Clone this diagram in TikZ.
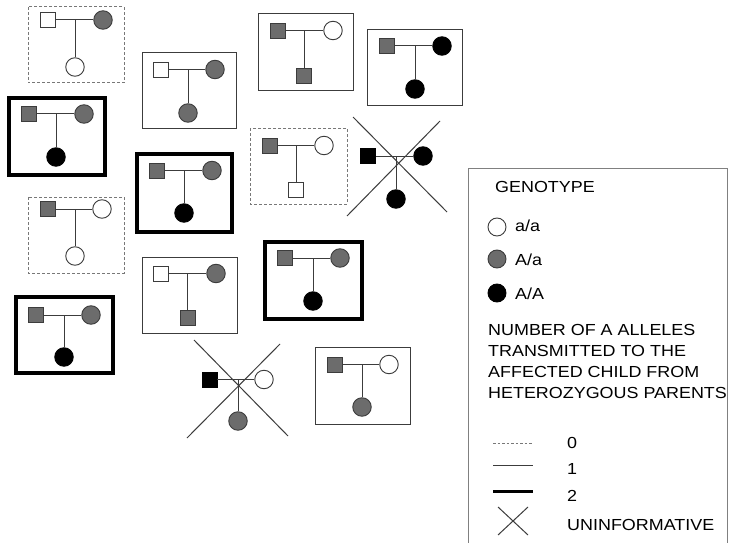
\documentclass[tikz,border=0pt]{standalone}
\usepackage{fontspec}
\setmainfont{Liberation Sans}
\definecolor{gfill}{RGB}{108,108,108}
\definecolor{gline}{RGB}{60,60,60}
\definecolor{dline}{RGB}{120,120,120}
\newcommand{\ped}[9]{%
  \node[#2] (#1f) at (#3,#4) {};
  \node[#5] (#1m) at (#6,#4) {};
  \node[#7] (#1c) at (#8,#9) {};
  \coordinate (#1j) at (#8,#4);
  \draw[pline] (#1f) -- (#1m);
  \draw[pline] (#1j) -- (#1c);
}
\newcommand{\ltxt}[1]{\scalebox{1.12}[1]{#1}}
\begin{document}
\begin{tikzpicture}[x=1pt,y=-1pt,
  sym/.style={draw=gline,line width=0.9pt,inner sep=0pt},
  sqW/.style={sym,rectangle,minimum size=15pt,fill=white},
  sqG/.style={sym,rectangle,minimum size=15pt,fill=gfill},
  sqB/.style={sym,rectangle,minimum size=15pt,fill=black,draw=black},
  ciW/.style={sym,circle,minimum size=18.5pt,fill=white},
  ciG/.style={sym,circle,minimum size=18.5pt,fill=gfill},
  ciB/.style={sym,circle,minimum size=18.5pt,fill=black,draw=black},
  pline/.style={draw=gline,line width=1pt},
  bzero/.style={draw=dline,line width=1pt,dash pattern=on 3pt off 2pt},
  bone/.style={draw=gline,line width=1pt},
  btwo/.style={draw=black,line width=3.3pt},
  xline/.style={draw=gline,line width=1pt},
  ltext/.style={font=\fontsize{16}{21}\selectfont,inner sep=0pt,anchor=base west,text=black},
  lbox/.style={draw=gray,line width=1pt}
]
\useasboundingbox (0,0) rectangle (729,543);
\fill[white] (0,0) rectangle (729,543);

% boxes
\draw[bzero] (28,7) rectangle (124,83);
\draw[bone] (142,53) rectangle (236,128);
\draw[btwo] (9,98) rectangle (105,175);
\draw[btwo] (137,154) rectangle (232,232);
\draw[bzero] (28,197) rectangle (124,273);
\draw[bone] (142,257) rectangle (237,333);
\draw[btwo] (16,297) rectangle (113,373);
\draw[bone] (258,14) rectangle (353,91);
\draw[bone] (367,30) rectangle (462,106);
\draw[bzero] (250,128) rectangle (347,204);
\draw[btwo] (265,242) rectangle (362,319);
\draw[bone] (315,347) rectangle (410,424);

% pedigrees
\ped{p1}{sqW}{47.5}{20}{ciG}{103}{ciW}{75}{67}
\ped{p2}{sqW}{160.5}{69.5}{ciG}{215}{ciG}{188}{113}
\ped{p3}{sqG}{29}{114}{ciG}{84}{ciB}{56}{157}
\ped{p4}{sqG}{156.5}{170.5}{ciG}{212}{ciB}{184}{213}
\ped{p5}{sqG}{47.5}{209}{ciW}{102}{ciW}{75}{256}
\ped{p6}{sqW}{160.5}{273.5}{ciG}{216}{sqG}{187.5}{318}
\ped{p7}{sqG}{35.5}{315}{ciG}{91}{ciB}{64}{357}
\ped{p8}{sqG}{278}{30.5}{ciW}{333}{sqG}{304}{75.5}
\ped{p9}{sqG}{387}{46}{ciB}{442}{ciB}{415}{89}
\ped{p10}{sqG}{269.5}{145.5}{ciW}{324}{sqW}{296}{189.5}
\ped{p11}{sqB}{368}{156}{ciB}{423}{ciB}{396}{199}
\ped{p12}{sqG}{285}{258}{ciG}{340}{ciB}{313}{301}
\ped{p13}{sqB}{209.5}{379.5}{ciW}{264}{ciG}{238}{421}
\ped{p14}{sqG}{334.5}{364.5}{ciW}{389}{ciG}{362}{407}

% crosses
\coordinate (x11a) at (353,117); \coordinate (x11b) at (447,212);
\coordinate (x11c) at (440,121); \coordinate (x11d) at (347,216);
\draw[xline] (x11a) -- (x11b);
\draw[xline] (x11c) -- (x11d);
\coordinate (x13a) at (194,340); \coordinate (x13b) at (288,436);
\coordinate (x13c) at (280,344); \coordinate (x13d) at (187,438);
\draw[xline] (x13a) -- (x13b);
\draw[xline] (x13c) -- (x13d);

% legend
\draw[lbox] (468,543) -- (468,168) -- (727,168) -- (727,543);
\node[ltext] (lgen) at (495,192.5) {\ltxt{GENOTYPE}};
\node[ciW,minimum size=18pt] (lw) at (497,227) {};
\node[ltext] (laa) at (515,231.5) {\ltxt{a/a}};
\node[ciG,minimum size=18pt] (lg) at (497,259) {};
\node[ltext] (lAa) at (515,265.5) {\ltxt{A/a}};
\node[ciB,minimum size=18pt] (lb) at (497,293) {};
\node[ltext] (lAA) at (515,299) {\ltxt{A/A}};
\node[ltext] (n1) at (488,335.5) {\ltxt{NUMBER OF A ALLELES}};
\node[ltext] (n2) at (488,356.5) {\ltxt{TRANSMITTED TO THE}};
\node[ltext] (n3) at (488,377.5) {\ltxt{AFFECTED CHILD FROM}};
\node[ltext] (n4) at (488,398.5) {\ltxt{HETEROZYGOUS PARENTS}};

\coordinate (l0a) at (493,443); \coordinate (l0b) at (533,443);
\draw[draw=dline,line width=0.8pt,dash pattern=on 2.5pt off 2pt] (l0a) -- (l0b);
\node[ltext] (t0) at (567,448) {\ltxt{0}};
\coordinate (l1a) at (493,465); \coordinate (l1b) at (533,465);
\draw[draw=gline,line width=1pt] (l1a) -- (l1b);
\node[ltext] (t1) at (567,474) {\ltxt{1}};
\coordinate (l2a) at (493,491); \coordinate (l2b) at (533,491);
\draw[draw=black,line width=3pt] (l2a) -- (l2b);
\node[ltext] (t2) at (567,501.5) {\ltxt{2}};
\coordinate (lxa) at (498,507); \coordinate (lxb) at (528,535);
\coordinate (lxc) at (528,507); \coordinate (lxd) at (498,535);
\draw[xline] (lxa) -- (lxb);
\draw[xline] (lxc) -- (lxd);
\node[ltext] (tx) at (567,530) {\ltxt{UNINFORMATIVE}};
\end{tikzpicture}
\end{document}
